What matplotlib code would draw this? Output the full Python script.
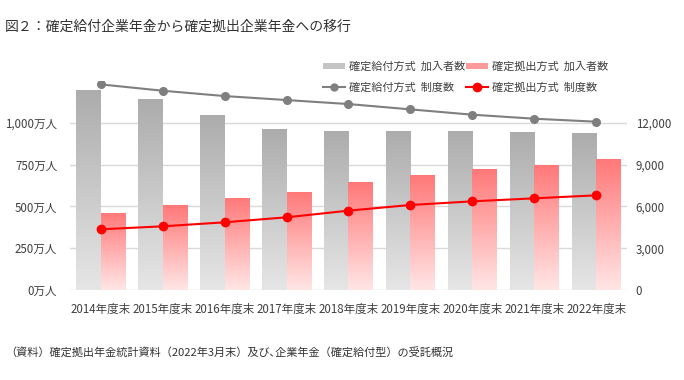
import numpy as np
import matplotlib
matplotlib.use("Agg")
import matplotlib.pyplot as plt
from matplotlib.colors import LinearSegmentedColormap
from matplotlib.lines import Line2D
from matplotlib.patches import Patch

plt.rcParams['font.family'] = ['Noto Sans CJK JP', 'DejaVu Sans']

# データ
years = ['2014年度末', '2015年度末', '2016年度末', '2017年度末', '2018年度末',
         '2019年度末', '2020年度末', '2021年度末', '2022年度末']
db_members = [1198, 1142, 1048, 964, 954, 954, 954, 944, 938]      # 万人
dc_members = [463, 507, 553, 589, 647, 687, 724, 749, 782]          # 万人
db_plans = [14780, 14323, 13941, 13653, 13366, 12983, 12600, 12312, 12096]
dc_plans = [4359, 4575, 4863, 5222, 5701, 6108, 6371, 6587, 6803]

left_ticks = [0, 250, 500, 750, 1000]
left_labels = ['0万人', '250万人', '500万人', '750万人', '1,000万人']
right_ticks = [0, 3000, 6000, 9000, 12000]
right_labels = ['0', '3,000', '6,000', '9,000', '12,000']

title = '図２：確定給付企業年金から確定拠出企業年金への移行'
source = '（資料）確定拠出年金統計資料（2022年3月末）及び､企業年金（確定給付型）の受託概況'

gray_cmap = LinearSegmentedColormap.from_list('g', ['#e6e6e6', '#acacac'])
red_cmap = LinearSegmentedColormap.from_list('r', ['#ffe6e6', '#ff7878'])

fig = plt.figure(figsize=(6.84, 3.80), dpi=100)
ax = fig.add_axes([0.102, 0.237, 0.815, 0.549])
ax2 = ax.twinx()

x = np.arange(len(years))
w = 0.395


def gradient_bars(axis, xs, vals, cmap):
    bars = axis.bar(xs, vals, width=w, color='none', edgecolor='none', zorder=2)
    grad = np.linspace(0, 1, 256).reshape(-1, 1)
    for b in bars:
        x0, y0 = b.get_x(), b.get_y()
        im = axis.imshow(grad, extent=[x0, x0 + b.get_width(), y0, y0 + b.get_height()],
                         origin='lower', aspect='auto', cmap=cmap, zorder=2)
        im.set_clip_path(b)


gradient_bars(ax, x - w / 2, db_members, gray_cmap)
gradient_bars(ax, x + w / 2, dc_members, red_cmap)

ax.set_xlim(-0.5, len(years) - 0.5)
ax.set_ylim(0, 1250)
ax.set_yticks(left_ticks)
ax.set_yticklabels(left_labels)
ax.grid(axis='y', color='#d9d9d9', linewidth=1.0, zorder=0)
ax.set_axisbelow(True)
ax.set_xticks(x)
ax.set_xticklabels(years)
ax.tick_params(length=0, labelsize=8.3, colors='#404040')
ax.tick_params(axis='y', pad=9)
ax.tick_params(axis='x', pad=9)
for s in ax.spines.values():
    s.set_visible(False)

ax2.plot(x, db_plans, color='#7f7f7f', lw=1.5, marker='o', ms=5.5, zorder=3)
ax2.plot(x, dc_plans, color='#ff0000', lw=1.5, marker='o', ms=6, zorder=3)
ax2.set_ylim(0, 15000)
ax2.set_yticks(right_ticks)
ax2.set_yticklabels(right_labels)
ax2.tick_params(length=0, labelsize=8.3, colors='#404040', pad=6)
for s in ax2.spines.values():
    s.set_visible(False)

handles = [Patch(facecolor='#c4c4c4', edgecolor='none'),
           Line2D([], [], color='#7f7f7f', lw=1.5, marker='o', ms=5),
           Patch(facecolor='#ff9a9a', edgecolor='none'),
           Line2D([], [], color='#ff0000', lw=1.5, marker='o', ms=6)]
labels = ['確定給付方式  加入者数', '確定給付方式  制度数',
          '確定拠出方式  加入者数', '確定拠出方式  制度数']
fig.legend(handles, labels, ncol=2, loc='upper left', bbox_to_anchor=(0.458, 0.865),
           frameon=False, fontsize=8, handlelength=2.0, handleheight=0.45,
           handletextpad=0.3, columnspacing=0.1, labelspacing=0.95,
           labelcolor='#404040')

fig.text(0.007, 0.93, title, fontsize=10, color='#333333', va='center')
fig.text(0.007, 0.073, source, fontsize=8, color='#333333', va='center')

fig.savefig('out.png', dpi=100)
